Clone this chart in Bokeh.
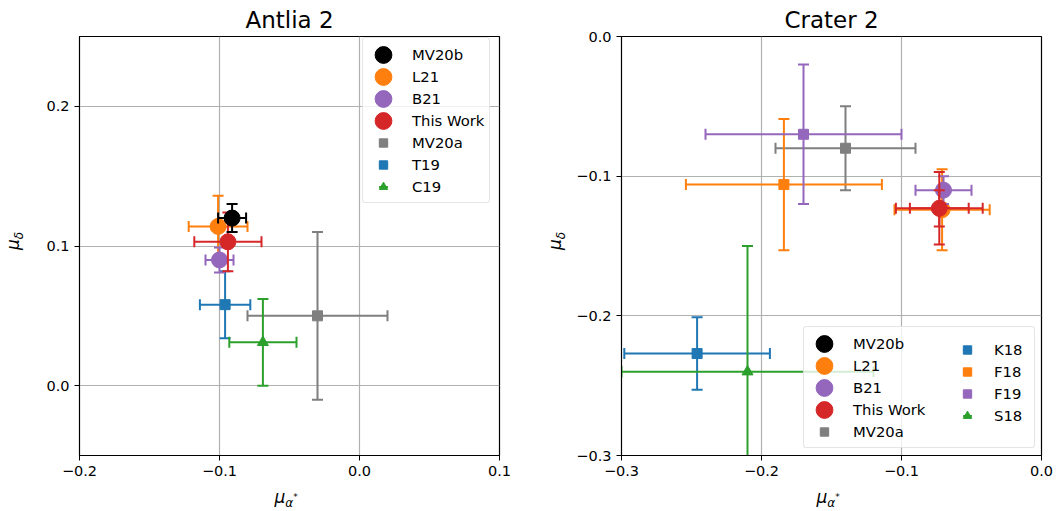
import math
from bokeh.plotting import figure
from bokeh.layouts import row, column
from bokeh.models import (FixedTicker, CustomJSTickFormatter, Legend, LegendItem,
                          ColumnDataSource, Div)
from bokeh.embed import file_html
from bokeh.resources import INLINE

FONT = "DejaVu Sans"
NAN = float("nan")

# ---------------- data: Antlia 2 ----------------
ant_names = ["MV20a", "T19", "C19", "L21", "B21", "This Work", "MV20b"]
ant_x = [-0.030, -0.096, -0.069, -0.101, -0.100, -0.094, -0.091]
ant_y = [0.050, 0.058, 0.031, 0.114, 0.090, 0.103, 0.120]
ant_xerr = [0.050, 0.018, 0.024, 0.021, 0.010, 0.024, 0.010]
ant_yerr = [0.060, 0.024, 0.031, 0.022, 0.009, 0.021, 0.010]
ant_colors = ["#7f7f7f", "#1f77b4", "#2ca02c", "#ff7f0e", "#9467bd", "#d62728", "black"]
ant_markers = ["square", "square", "triangle", "circle", "circle", "circle", "circle"]
ant_legend_order = ["MV20b", "L21", "B21", "This Work", "MV20a", "T19", "C19"]
ant_xticks = [-0.2, -0.1, 0.0, 0.1]
ant_yticks = [0.0, 0.1, 0.2]

# ---------------- data: Crater 2 ----------------
cra_names = ["MV20a", "K18", "F18", "F19", "S18", "L21", "B21", "This Work", "MV20b"]
cra_x = [-0.140, -0.246, -0.184, -0.170, -0.210, -0.071, -0.070, -0.073, None]
cra_y = [-0.080, -0.227, -0.106, -0.070, -0.240, -0.124, -0.110, -0.123, None]
cra_xerr = [0.050, 0.052, 0.070, 0.070, 0.090, 0.034, 0.020, 0.031, None]
cra_yerr = [0.030, 0.026, 0.047, 0.050, 0.090, 0.029, 0.010, 0.026, None]
cra_colors = ["#7f7f7f", "#1f77b4", "#ff7f0e", "#9467bd", "#2ca02c", "#ff7f0e", "#9467bd", "#d62728", "black"]
cra_markers = ["square", "square", "square", "square", "triangle", "circle", "circle", "circle", "circle"]
cra_tw_stat_xerr = 0.021
cra_tw_stat_yerr = 0.013
cra_legend_col1 = ["MV20b", "L21", "B21", "This Work", "MV20a"]
cra_legend_col2 = ["K18", "F18", "F19", "S18"]
cra_xticks = [-0.3, -0.2, -0.1, 0.0]
cra_yticks = [-0.3, -0.2, -0.1, 0.0]

TICK_FMT = CustomJSTickFormatter(code="""
    const s = Math.abs(tick).toFixed(1);
    return (tick < -1e-9 ? '\\u2212' : '') + s;
""")

FIG_H = 485


def make_fig(title, xr, yr, xticks, yticks, width, bl, br):
    p = figure(width=width, height=FIG_H, x_range=xr, y_range=yr,
               output_backend="svg", toolbar_location=None,
               min_border_left=bl, min_border_right=br,
               min_border_top=35, min_border_bottom=30)
    p.title.text = title
    p.title.align = "center"
    p.title.text_font = FONT
    p.title.text_font_style = "normal"
    p.title.text_font_size = "23px"
    p.title.text_color = "black"
    p.title.offset = 0
    p.title.standoff = 8
    for ax, t in ((p.xaxis, xticks), (p.yaxis, yticks)):
        ax.ticker = FixedTicker(ticks=t)
        ax.formatter = TICK_FMT
        ax.minor_tick_line_color = None
        ax.major_tick_out = 5
        ax.major_tick_in = 0
        ax.major_tick_line_color = "black"
        ax.major_tick_line_width = 1
        ax.axis_line_color = "black"
        ax.major_label_text_font = FONT
        ax.major_label_text_font_size = "14.5px"
        ax.major_label_text_color = "black"
        ax.major_label_standoff = 5
    p.outline_line_color = "black"
    p.outline_line_width = 1.2
    p.grid.grid_line_color = "#b0b0b0"
    p.grid.grid_line_width = 1.2
    p.background_fill_color = "white"
    p.border_fill_color = "white"
    return p


def draw_err(p, x, y, xe, ye, color, cap=11, lw=2):
    src = ColumnDataSource(dict(x=[x], y=[y], x0=[x - xe], x1=[x + xe],
                                y0=[y - ye], y1=[y + ye]))
    p.segment(x0="x0", y0="y", x1="x1", y1="y", source=src, line_color=color, line_width=lw)
    p.segment(x0="x", y0="y0", x1="x", y1="y1", source=src, line_color=color, line_width=lw)
    capsrc = ColumnDataSource(dict(cx=[x - xe, x + xe], cy=[y, y]))
    p.scatter(x="cx", y="cy", source=capsrc, marker="dash", size=cap, angle=math.pi / 2,
              line_color=color, line_width=lw)
    capsrc2 = ColumnDataSource(dict(cx=[x, x], cy=[y - ye, y + ye]))
    p.scatter(x="cx", y="cy", source=capsrc2, marker="dash", size=cap, angle=0,
              line_color=color, line_width=lw)


def draw_marker(p, x, y, color, marker):
    if marker == "circle":
        return p.ellipse([x], [y], width=16, height=16, width_units="screen",
                         height_units="screen", fill_color=color, line_color=color)
    size = {"square": 10, "triangle": 11}[marker]
    return p.scatter([x], [y], marker=marker, size=size, fill_color=color,
                     line_color=color, line_width=1)


def legend_renderers(p, color, marker):
    lx = p.scatter([NAN], [NAN], marker="dash", size=12, line_color=color, line_width=2)
    ly = p.scatter([NAN], [NAN], marker="dash", size=12, angle=math.pi / 2,
                   line_color=color, line_width=2)
    lm = draw_marker(p, NAN, NAN, color, marker)
    return [lx, ly, lm]


def draw_series(p, x, y, xe, ye, color, marker):
    draw_err(p, x, y, xe, ye, color)
    draw_marker(p, x, y, color, marker)
    return legend_renderers(p, color, marker)


def make_legend(items, loc, border=True, label_width=20, standoff=14):
    lg = Legend(items=items, location=loc)
    lg.label_text_font = FONT
    lg.label_text_font_size = "14.8px"
    lg.label_text_color = "black"
    lg.glyph_width = 30
    lg.glyph_height = 21
    lg.label_height = 22
    lg.label_standoff = standoff
    lg.spacing = 0
    lg.padding = 5
    lg.margin = 0
    lg.label_width = label_width
    if border:
        lg.border_line_color = "#cccccc"
        lg.border_line_width = 1
        lg.border_radius = 3
        lg.background_fill_color = "white"
        lg.background_fill_alpha = 0.8
    else:
        lg.border_line_color = None
        lg.background_fill_alpha = 0.0
    return lg


MU_STYLE = "font-family:'DejaVu Sans';color:black;white-space:nowrap;line-height:1;"


def xlabel_div(width, center_x):
    html = (f'<div style="position:relative;width:{width}px;height:26px;">'
            f'<div style="position:absolute;left:{center_x}px;top:4px;transform:translateX(-50%);{MU_STYLE}">'
            '<span style="font-size:17px;font-style:italic;">μ</span>'
            '<span style="font-size:12px;font-style:italic;position:relative;top:4px;">α</span>'
            '<span style="font-size:9px;position:relative;top:-3px;">*</span>'
            '</div></div>')
    return Div(text=html, width=width, height=26, margin=0)


def ylabel_div(height, center_y, center_x=15):
    html = (f'<div style="position:relative;width:30px;height:{height}px;">'
            f'<div style="position:absolute;left:{center_x}px;top:{center_y}px;'
            f'transform:translate(-50%,-50%) rotate(-90deg);{MU_STYLE}">'
            '<span style="font-size:17px;font-style:italic;">μ</span>'
            '<span style="font-size:12px;font-style:italic;position:relative;top:4px;">δ</span>'
            '</div></div>')
    return Div(text=html, width=30, height=height, margin=0)


# ---------------- Antlia 2 ----------------
p1 = make_fig("Antlia 2", (-0.2, 0.1), (-0.05, 0.25), ant_xticks, ant_yticks, 510, 49, 41)
items1 = {}
for n, x, y, xe, ye, c, m in zip(ant_names, ant_x, ant_y, ant_xerr, ant_yerr,
                                 ant_colors, ant_markers):
    items1[n] = draw_series(p1, x, y, xe, ye, c, m)
lg1 = make_legend([LegendItem(label=n, renderers=items1[n], index=0) for n in ant_legend_order],
                  (283, 252))
p1.add_layout(lg1)

# ---------------- Crater 2 ----------------
p2 = make_fig("Crater 2", (-0.3, 0.0), (-0.3, 0.0), cra_xticks, cra_yticks, 488, 51, 17)
items2 = {}
for n, x, y, xe, ye, c, m in zip(cra_names, cra_x, cra_y, cra_xerr, cra_yerr,
                                 cra_colors, cra_markers):
    if x is None:
        items2[n] = legend_renderers(p2, c, m)
        continue
    if n == "This Work":
        draw_err(p2, x, y, cra_tw_stat_xerr, cra_tw_stat_yerr, c)
    items2[n] = draw_series(p2, x, y, xe, ye, c, m)
lg2a = make_legend([LegendItem(label=n, renderers=items2[n], index=0) for n in cra_legend_col1],
                   (182, 7), border=True, label_width=176)
lg2b = make_legend([LegendItem(label=n, renderers=items2[n], index=0) for n in cra_legend_col2],
                   (331, 29), border=False, standoff=12)
p2.add_layout(lg2a)
p2.add_layout(lg2b)

left = column(row(ylabel_div(FIG_H, 241, 13), p1, spacing=0),
              xlabel_div(540, 286), spacing=0)
right = column(row(ylabel_div(FIG_H, 241, 15), p2, spacing=0),
               xlabel_div(518, 828 - 540), spacing=0)
layout = row(left, right, spacing=0)
open("out.html", "w").write(file_html(layout, INLINE))
